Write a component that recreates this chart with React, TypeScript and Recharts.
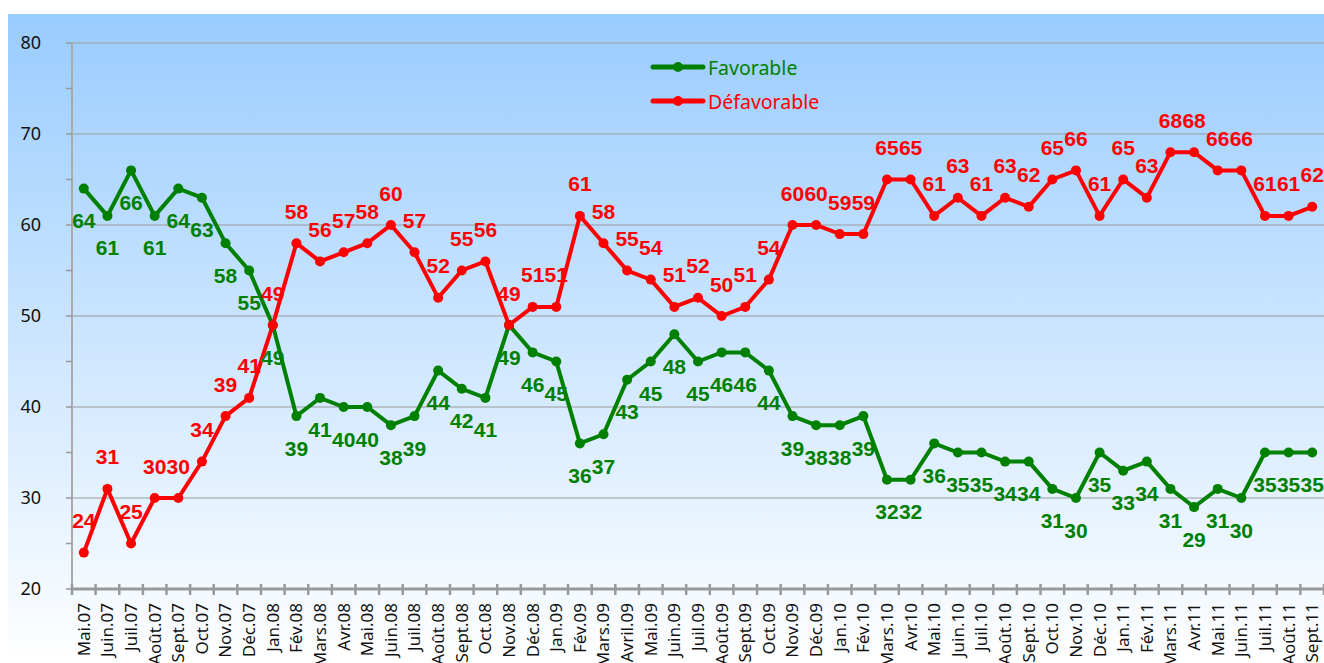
import React from 'react';
import {
  LineChart,
  Line,
  XAxis,
  YAxis,
  CartesianGrid,
  Legend,
  LabelList,
} from 'recharts';

const months = [
  'Mai.07', 'Juin.07', 'Juil.07', 'Août.07', 'Sept.07', 'Oct.07', 'Nov.07', 'Déc.07',
  'Jan.08', 'Fév.08', 'Mars.08', 'Avr.08', 'Mai.08', 'Juin.08', 'Juil.08', 'Août.08',
  'Sept.08', 'Oct.08', 'Nov.08', 'Déc.08', 'Jan.09', 'Fév.09', 'Mars.09', 'Avril.09',
  'Mai.09', 'Juin.09', 'Juil.09', 'Août.09', 'Sept.09', 'Oct.09', 'Nov.09', 'Déc.09',
  'Jan.10', 'Fév.10', 'Mars.10', 'Avr.10', 'Mai.10', 'Juin.10', 'Juil.10', 'Août.10',
  'Sept.10', 'Oct.10', 'Nov.10', 'Déc.10', 'Jan.11', 'Fév.11', 'Mars.11', 'Avr.11',
  'Mai.11', 'Juin.11', 'Juil.11', 'Août.11', 'Sept.11',
];

const favorable = [
  64, 61, 66, 61, 64, 63, 58, 55, 49, 39, 41, 40, 40, 38, 39, 44, 42, 41, 49, 46, 45,
  36, 37, 43, 45, 48, 45, 46, 46, 44, 39, 38, 38, 39, 32, 32, 36, 35, 35, 34, 34, 31,
  30, 35, 33, 34, 31, 29, 31, 30, 35, 35, 35,
];

const defavorable = [
  24, 31, 25, 30, 30, 34, 39, 41, 49, 58, 56, 57, 58, 60, 57, 52, 55, 56, 49, 51, 51,
  61, 58, 55, 54, 51, 52, 50, 51, 54, 60, 60, 59, 59, 65, 65, 61, 63, 61, 63, 62, 65,
  66, 61, 65, 63, 68, 68, 66, 66, 61, 61, 62,
];

const seriesNames = ['Favorable', 'Défavorable'];
const yTicks = [20, 25, 30, 35, 40, 45, 50, 55, 60, 65, 70, 75, 80];
const gridValues = [30, 40, 50, 60, 70, 80];

const data = months.map((m, i) => ({
  month: m,
  Favorable: favorable[i],
  'Défavorable': defavorable[i],
}));

const GREEN = '#008000';
const RED = '#ff0000';
const CHART_W = 1316;
const CHART_H = 649;
const Y_AXIS_W = 64;
const PLOT_W = CHART_W - Y_AXIS_W;
const STEP = PLOT_W / months.length;

const XTick = (props: any) => {
  const { x, y, payload, index } = props;
  const ty = y + 14;
  return (
    <g>
      <line x1={x - STEP / 2} x2={x - STEP / 2} y1={y - 5} y2={y + 6} stroke="#999" strokeWidth={2.5} />
      {index === months.length - 1 && (
        <line x1={x + STEP / 2} x2={x + STEP / 2} y1={y - 5} y2={y + 6} stroke="#999" strokeWidth={2.5} />
      )}
      <text
        x={x}
        y={ty}
        transform={`rotate(-90, ${x}, ${ty})`}
        textAnchor="end"
        dy="0.35em"
        fill="#111"
        style={{ fontFamily: 'Noto Sans', fontSize: 17 }}
      >
        {payload.value}
      </text>
    </g>
  );
};

const YTick = (props: any) => {
  const { x, y, payload } = props;
  const major = payload.value % 10 === 0;
  return (
    <g>
      <line x1={x - 6} x2={x} y1={y} y2={y} stroke="#999" strokeWidth={1.5} />
      {major && (
        <text
          x={x - 31}
          y={y}
          dy="0.35em"
          textAnchor="end"
          fill="#111"
          style={{ fontFamily: 'Noto Sans', fontSize: 18 }}
        >
          {payload.value}
        </text>
      )}
    </g>
  );
};

const makeLabel = (color: string, dir: number) => (props: any) => {
  const { x, y, value } = props;
  return (
    <text
      x={x}
      y={y + dir * 32}
      textAnchor="middle"
      dominantBaseline="central"
      fill={color}
      style={{ fontFamily: 'Liberation Sans, Arial', fontSize: 21, fontWeight: 'bold' }}
    >
      {value}
    </text>
  );
};

const renderLegend = (props: any) => {
  const items = [...props.payload].sort(
    (a: any, b: any) => seriesNames.indexOf(a.value) - seriesNames.indexOf(b.value)
  );
  return (
    <div>
      {items.map((e: any) => (
        <div key={e.value} style={{ display: 'flex', alignItems: 'center', height: 34 }}>
          <svg width={56} height={12}>
            <line x1={3} y1={6} x2={53} y2={6} stroke={e.color} strokeWidth={5} strokeLinecap="round" />
            <circle cx={28} cy={6} r={5} fill={e.color} />
          </svg>
          <span style={{ color: e.color, fontFamily: 'Noto Sans', fontSize: 19.5, marginLeft: 2 }}>
            {e.value}
          </span>
        </div>
      ))}
    </div>
  );
};

export default function App() {
  return (
    <div
      style={{
        position: 'absolute',
        left: 8,
        top: 14,
        width: CHART_W,
        height: CHART_H,
        overflow: 'hidden',
        background: 'linear-gradient(to bottom, #99ccff 0%, #ffffff 100%)',
      }}
    >
      <LineChart width={CHART_W} height={CHART_H} data={data} margin={{ top: 29, right: 0, bottom: 0, left: 0 }}>
        <CartesianGrid vertical={false} horizontalValues={gridValues} stroke="#999" strokeWidth={1.2} />
        <XAxis
          dataKey="month"
          height={74}
          interval={0}
          padding={{ left: STEP / 2, right: STEP / 2 }}
          tickLine={false}
          tickSize={0}
          tickMargin={0}
          tick={<XTick />}
          axisLine={{ stroke: '#999', strokeWidth: 3 }}
        />
        <YAxis
          width={Y_AXIS_W}
          domain={[20, 80]}
          ticks={yTicks}
          interval={0}
          tickLine={false}
          tickSize={0}
          tickMargin={0}
          tick={<YTick />}
          axisLine={{ stroke: '#aaa', strokeWidth: 2 }}
        />
        <Legend
          layout="vertical"
          align="center"
          verticalAlign="middle"
          content={renderLegend}
          wrapperStyle={{ left: 642, top: 36 }}
        />
        <Line
          type="linear"
          dataKey="Favorable"
          stroke={GREEN}
          strokeWidth={4}
          dot={{ r: 5, fill: GREEN, stroke: 'none' }}
          activeDot={false}
          isAnimationActive={false}
        >
          <LabelList dataKey="Favorable" content={makeLabel(GREEN, 1)} />
        </Line>
        <Line
          type="linear"
          dataKey="Défavorable"
          stroke={RED}
          strokeWidth={4}
          dot={{ r: 5, fill: RED, stroke: 'none' }}
          activeDot={false}
          isAnimationActive={false}
        >
          <LabelList dataKey="Défavorable" content={makeLabel(RED, -1)} />
        </Line>
      </LineChart>
    </div>
  );
}
